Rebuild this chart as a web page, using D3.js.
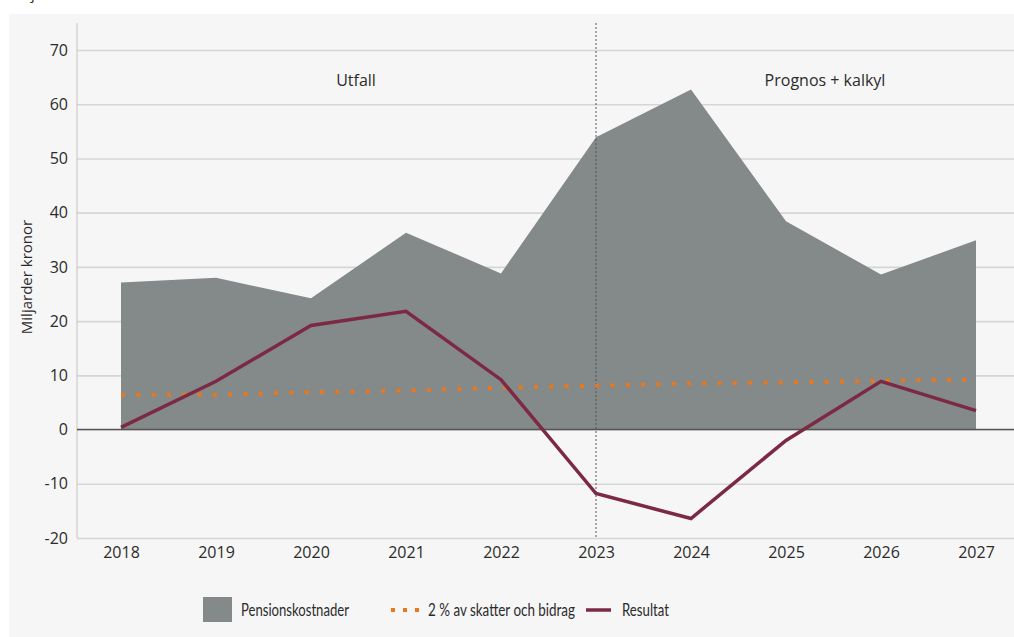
<!DOCTYPE html>
<html>
<head>
<meta charset="utf-8">
<script src="https://cdn.jsdelivr.net/npm/d3@7"></script>
<style>
  body { margin: 0; background: #fff; }
  svg { display: block; }
  text { font-family: "Open Sans", sans-serif; fill: #2b2b2b; }
  .legend text { font-family: Lato, sans-serif; }
</style>
</head>
<body>
<svg id="chart" width="1014" height="637"></svg>
<script>
// years on the x axis
var years = [2018, 2019, 2020, 2021, 2022, 2023, 2024, 2025, 2026, 2027];
// Pensionskostnader (area)
var pension = [27.1, 28.0, 24.2, 36.3, 28.8, 53.9, 62.7, 38.4, 28.6, 34.9];
// 2 % av skatter och bidrag (dotted)
var twoPct = [6.4, 6.4, 6.9, 7.2, 7.7, 8.1, 8.5, 8.7, 9.0, 9.2];
// Resultat (line)
var resultat = [0.4, 8.9, 19.2, 21.8, 9.2, -11.8, -16.4, -2.0, 8.9, 3.5];
var yTicks = [-20, -10, 0, 10, 20, 30, 40, 50, 60, 70];

var svg = d3.select("#chart");

// panel background
svg.append("rect").attr("x", 9).attr("y", 14).attr("width", 1005).attr("height", 623).attr("fill", "#f6f6f6");

// cut off title at top
svg.append("text").attr("x", 10).attr("y", -1).attr("font-size", 15).text("Miljarder kronor");

var left = 77, right = 1014;
var x = d3.scaleLinear().domain([2018, 2027]).range([121, 976]);
var y = d3.scaleLinear().domain([-20, 70]).range([538, 50]);

// gridlines
var grid = svg.append("g")
  .attr("transform", "translate(" + left + ",0)")
  .call(d3.axisLeft(y).tickValues(yTicks).tickSize(-(right - left)).tickFormat(""));
grid.select(".domain").remove();
grid.selectAll(".tick line").attr("stroke", "#d6d6d6").attr("stroke-width", 1.6);

// y axis labels
var yAx = svg.append("g")
  .attr("transform", "translate(" + left + ",0)")
  .call(d3.axisLeft(y).tickValues(yTicks).tickSize(0).tickPadding(9)
    .tickFormat(function(d) { return String(d); }));
yAx.select(".domain").remove();
yAx.selectAll("text").attr("font-size", 16).attr("font-family", "Open Sans").attr("fill", "#2b2b2b");

// y axis line
svg.append("line").attr("x1", left).attr("x2", left).attr("y1", 23).attr("y2", y(-20))
  .attr("stroke", "#c4c4c4").attr("stroke-width", 1);

// x axis labels
var xAx = svg.append("g")
  .attr("transform", "translate(0," + y(-20) + ")")
  .call(d3.axisBottom(x).tickValues(years).tickFormat(d3.format("d")).tickSize(0).tickPadding(9));
xAx.select(".domain").remove();
xAx.selectAll("text").attr("font-size", 16).attr("font-family", "Open Sans").attr("fill", "#2b2b2b");

// y title
svg.append("text")
  .attr("transform", "translate(32,277) rotate(-90)")
  .attr("text-anchor", "middle")
  .attr("font-size", 15)
  .text("Miljarder kronor");

// area
var area = d3.area()
  .x(function(d, i) { return x(years[i]); })
  .y0(y(0))
  .y1(function(d) { return y(d); });
svg.append("path").datum(pension).attr("d", area).attr("fill", "#84898a");

// zero line
svg.append("line").attr("x1", left).attr("x2", right).attr("y1", y(0)).attr("y2", y(0))
  .attr("stroke", "#555").attr("stroke-width", 1.5);

// forecast divider
svg.append("line").attr("x1", x(2023)).attr("x2", x(2023)).attr("y1", 23).attr("y2", y(-20))
  .attr("stroke", "#555").attr("stroke-width", 1).attr("stroke-dasharray", "2,2");

var line = d3.line()
  .x(function(d, i) { return x(years[i]); })
  .y(function(d) { return y(d); });

// 2% dotted line
svg.append("path").datum(twoPct).attr("d", line)
  .attr("fill", "none").attr("stroke", "#e8771e").attr("stroke-width", 4)
  .attr("stroke-dasharray", "4,11.3");

// Resultat
svg.append("path").datum(resultat).attr("d", line)
  .attr("fill", "none").attr("stroke", "#7c2a43").attr("stroke-width", 3.5)
  .attr("stroke-linejoin", "miter");

// period labels
svg.append("text").attr("x", 356).attr("y", 86).attr("text-anchor", "middle").attr("font-size", 16).text("Utfall");
svg.append("text").attr("x", 825).attr("y", 86).attr("text-anchor", "middle").attr("font-size", 16).text("Prognos + kalkyl");

// legend
var lg = svg.append("g").attr("class", "legend");
lg.append("rect").attr("x", 203).attr("y", 597).attr("width", 29).attr("height", 25).attr("fill", "#84898a");
lg.append("text").attr("x", 241).attr("y", 616).attr("font-size", 17)
  .attr("textLength", 108).attr("lengthAdjust", "spacingAndGlyphs").text("Pensionskostnader");
lg.append("line").attr("x1", 391).attr("x2", 421).attr("y1", 610).attr("y2", 610)
  .attr("stroke", "#e8771e").attr("stroke-width", 4).attr("stroke-dasharray", "4,8");
lg.append("text").attr("x", 428).attr("y", 616).attr("font-size", 17)
  .attr("textLength", 147).attr("lengthAdjust", "spacingAndGlyphs").text("2 % av skatter och bidrag");
lg.append("line").attr("x1", 586).attr("x2", 611).attr("y1", 610).attr("y2", 610)
  .attr("stroke", "#7c2a43").attr("stroke-width", 3.5);
lg.append("text").attr("x", 622).attr("y", 616).attr("font-size", 17)
  .attr("textLength", 47).attr("lengthAdjust", "spacingAndGlyphs").text("Resultat");
</script>
</body>
</html>
